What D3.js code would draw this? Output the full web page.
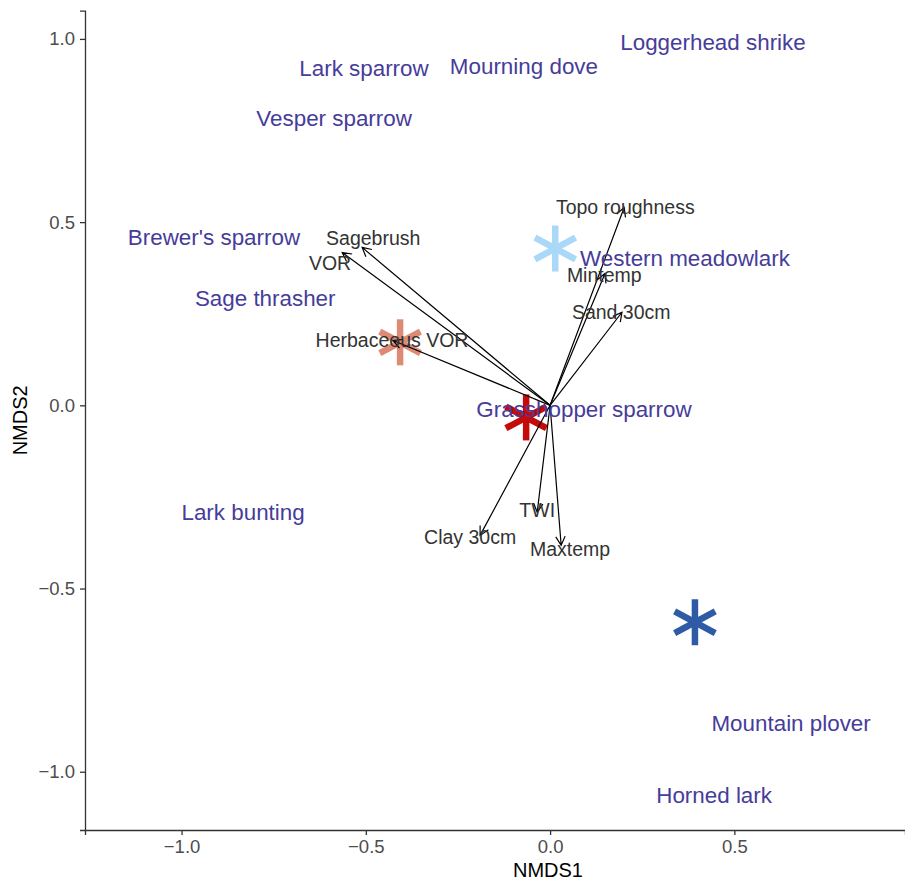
<!DOCTYPE html>
<html>
<head>
<meta charset="utf-8">
<script src="https://cdn.jsdelivr.net/npm/d3@7"></script>
<style>
  body { margin: 0; background: #fff; }
  svg { display: block; font-family: "Liberation Sans", Arial, sans-serif; }
</style>
</head>
<body>
<div id="container"></div>
<script>
// species scores (labels)
const species = ["Loggerhead shrike", "Lark sparrow", "Mourning dove", "Vesper sparrow",
  "Brewer's sparrow", "Western meadowlark", "Sage thrasher", "Grasshopper sparrow",
  "Lark bunting", "Mountain plover", "Horned lark"];
const speciesX = [0.442, -0.505, -0.071, -0.586, -0.912, 0.366, -0.773, 0.092, -0.833, 0.654, 0.445];
const speciesY = [0.990, 0.919, 0.927, 0.783, 0.458, 0.401, 0.292, -0.011, -0.292, -0.867, -1.064];

// group centroids (asterisks)
const groupX = [-0.407, 0.014, -0.065, 0.393];
const groupY = [0.172, 0.428, -0.033, -0.592];
const groupColor = ["#de8b75", "#aad8f8", "#c40a0a", "#2f5ba6"];

// envfit vectors
const envVars = ["Topo roughness", "Mintemp", "Sand 30cm", "Sagebrush", "VOR",
  "Herbaceous VOR", "Clay 30cm", "TWI", "Maxtemp"];
const envX = [0.201, 0.149, 0.195, -0.510, -0.564, -0.426, -0.190, -0.035, 0.030];
const envY = [0.540, 0.360, 0.254, 0.431, 0.417, 0.177, -0.355, -0.292, -0.382];
const envLabX = [0.204, 0.147, 0.193, -0.480, -0.597, -0.429, -0.217, -0.035, 0.054];
const envLabY = [0.540, 0.355, 0.254, 0.455, 0.387, 0.177, -0.360, -0.286, -0.393];

const xTicks = [-1.0, -0.5, 0.0, 0.5];
const yTicks = [-1.0, -0.5, 0.0, 0.5, 1.0];

const width = 905, height = 882;
const margin = {left: 85, right: 0, top: 10.7, bottom: 52};

const x = d3.scaleLinear().domain([-1.262, 0.963]).range([margin.left, width - margin.right]);
const y = d3.scaleLinear().domain([-1.159, 1.077]).range([height - margin.bottom, margin.top]);

const svg = d3.select("#container").append("svg")
    .attr("width", width)
    .attr("height", height);

// axes
const fmt = d3.format(".1f");
const xAxis = svg.append("g")
    .attr("transform", `translate(0,${height - margin.bottom})`)
    .call(d3.axisBottom(x).tickValues(xTicks).tickFormat(fmt).tickSizeOuter(0).tickSize(5).tickPadding(5));
const yAxis = svg.append("g")
    .attr("transform", `translate(${margin.left},0)`)
    .call(d3.axisLeft(y).tickValues(yTicks).tickFormat(fmt).tickSizeOuter(0).tickSize(5).tickPadding(5));

[xAxis, yAxis].forEach(a => {
    a.select(".domain").attr("stroke", "#333").attr("stroke-width", 1.3);
    a.selectAll(".tick line").attr("stroke", "#333").attr("stroke-width", 1.3);
    a.selectAll(".tick text").attr("fill", "#4d4d4d").style("font-size", "18.5px");
});

svg.append("text")
    .attr("x", 548).attr("y", 877)
    .attr("text-anchor", "middle")
    .style("font-size", "20px")
    .text("NMDS1");
svg.append("text")
    .attr("transform", `translate(27,${(margin.top + height - margin.bottom) / 2}) rotate(-90)`)
    .attr("text-anchor", "middle")
    .style("font-size", "20px")
    .text("NMDS2");

// asterisks for groups
const starLen = 23;
const stars = svg.append("g").selectAll("g")
    .data(groupX.map((gx, i) => ({x: gx, y: groupY[i], c: groupColor[i]})))
    .join("g")
    .attr("transform", d => `translate(${x(d.x)},${y(d.y)})`);
[90, 28, -28].forEach(a => {
    const r = a * Math.PI / 180;
    stars.append("line")
        .attr("x1", -starLen * Math.cos(r)).attr("y1", -starLen * Math.sin(r))
        .attr("x2", starLen * Math.cos(r)).attr("y2", starLen * Math.sin(r))
        .attr("stroke", d => d.c)
        .attr("stroke-width", 6.5);
});

// env arrows
const env = envVars.map((n, i) => ({name: n, x: envX[i], y: envY[i], lx: envLabX[i], ly: envLabY[i]}));
const head = 10, ang = 28 * Math.PI / 180;
const arrows = svg.append("g")
    .attr("stroke", "#000")
    .attr("stroke-width", 1.2)
    .attr("fill", "none");
arrows.selectAll("path")
    .data(env)
    .join("path")
    .attr("d", d => {
        const x0 = x(0), y0 = y(0), x1 = x(d.x), y1 = y(d.y);
        const t = Math.atan2(y1 - y0, x1 - x0);
        const p = d3.path();
        p.moveTo(x0, y0); p.lineTo(x1, y1);
        p.moveTo(x1 - head * Math.cos(t - ang), y1 - head * Math.sin(t - ang));
        p.lineTo(x1, y1);
        p.lineTo(x1 - head * Math.cos(t + ang), y1 - head * Math.sin(t + ang));
        return p.toString();
    });

svg.append("g").selectAll("text")
    .data(env)
    .join("text")
    .attr("x", d => x(d.lx))
    .attr("y", d => y(d.ly))
    .attr("dy", "0.35em")
    .attr("text-anchor", "middle")
    .attr("fill", "#333")
    .style("font-size", "19.5px")
    .text(d => d.name);

// species labels
svg.append("g").selectAll("text")
    .data(species)
    .join("text")
    .attr("x", (d, i) => x(speciesX[i]))
    .attr("y", (d, i) => y(speciesY[i]))
    .attr("dy", "0.35em")
    .attr("text-anchor", "middle")
    .attr("fill", "#463c9a")
    .style("font-size", "22.4px")
    .text(d => d);
</script>
</body>
</html>
